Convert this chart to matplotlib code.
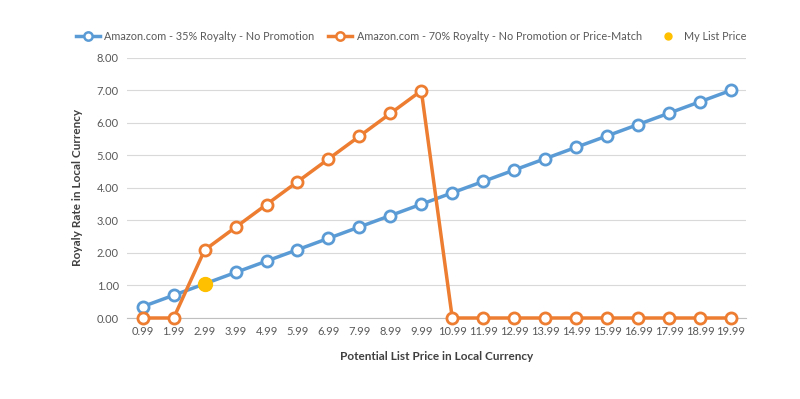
import matplotlib.pyplot as plt
from matplotlib.lines import Line2D

# Category labels (list prices)
prices = ["0.99", "1.99", "2.99", "3.99", "4.99", "5.99", "6.99", "7.99", "8.99", "9.99",
          "10.99", "11.99", "12.99", "13.99", "14.99", "15.99", "16.99", "17.99", "18.99", "19.99"]

royalty35 = [0.35, 0.70, 1.05, 1.40, 1.75, 2.10, 2.45, 2.80, 3.15, 3.50,
             3.85, 4.20, 4.55, 4.90, 5.25, 5.60, 5.95, 6.30, 6.65, 7.00]
royalty70 = [0.00, 0.00, 2.09, 2.79, 3.49, 4.19, 4.89, 5.59, 6.29, 6.99,
             0.00, 0.00, 0.00, 0.00, 0.00, 0.00, 0.00, 0.00, 0.00, 0.00]

myPriceIndex = 2
myPriceValue = 1.05

blue = "#5B9BD5"
orange = "#ED7D31"
gold = "#FFC000"
textGray = "#595959"
titleGray = "#404040"

plt.rcParams['font.family'] = ['Lato', 'DejaVu Sans']

fig = plt.figure(figsize=(8, 3.99), dpi=100)
ax = fig.add_axes([0.159, 0.203, 0.774, 0.652])

x = list(range(len(prices)))

ax.plot(x, royalty35, color=blue, lw=2.5, marker='o', ms=8, mfc='white', mec=blue, mew=2,
        label="Amazon.com - 35% Royalty - No Promotion", zorder=3, clip_on=False)
ax.plot(x, royalty70, color=orange, lw=2.5, marker='o', ms=8, mfc='white', mec=orange, mew=2,
        label="Amazon.com - 70% Royalty - No Promotion or Price-Match", zorder=3, clip_on=False)
ax.plot([myPriceIndex], [myPriceValue], linestyle='none', marker='o', ms=10, color=gold,
        label="My List Price", zorder=4)

ax.set_xlim(-0.5, len(prices) - 0.5)
ax.set_ylim(0, 8)
ax.set_yticks([i for i in range(9)])
ax.set_yticklabels(["%.2f" % i for i in range(9)])
ax.set_xticks(x)
ax.set_xticklabels(prices)

ax.grid(axis='y', color="#D9D9D9", lw=0.8)
ax.set_axisbelow(True)
for s in ['top', 'right', 'left']:
    ax.spines[s].set_visible(False)
ax.spines['bottom'].set_color("#BFBFBF")
ax.tick_params(axis='both', length=0, labelsize=8, colors=textGray, pad=6)

ax.set_xlabel("Potential List Price in Local Currency", fontsize=8.5, fontweight='bold',
              color=titleGray, labelpad=10)
ax.set_ylabel("Royaly Rate in Local Currency", fontsize=8.5, fontweight='bold',
              color=titleGray, labelpad=10)

handles = [
    Line2D([], [], color=blue, lw=2.5, marker='o', ms=6, mfc='white', mec=blue, mew=1.8),
    Line2D([], [], color=orange, lw=2.5, marker='o', ms=6, mfc='white', mec=orange, mew=1.8),
    Line2D([], [], linestyle='none', marker='o', ms=5, color=gold),
]
labels = ["Amazon.com - 35% Royalty - No Promotion",
          "Amazon.com - 70% Royalty - No Promotion or Price-Match",
          "My List Price"]
fig.legend(handles, labels, loc='center', bbox_to_anchor=(0.514, 0.908), ncol=3, frameon=False,
           fontsize=7.8, labelcolor=textGray, handlelength=2.2, columnspacing=1.3, handletextpad=0.4)

fig.savefig("out.png", dpi=100)
